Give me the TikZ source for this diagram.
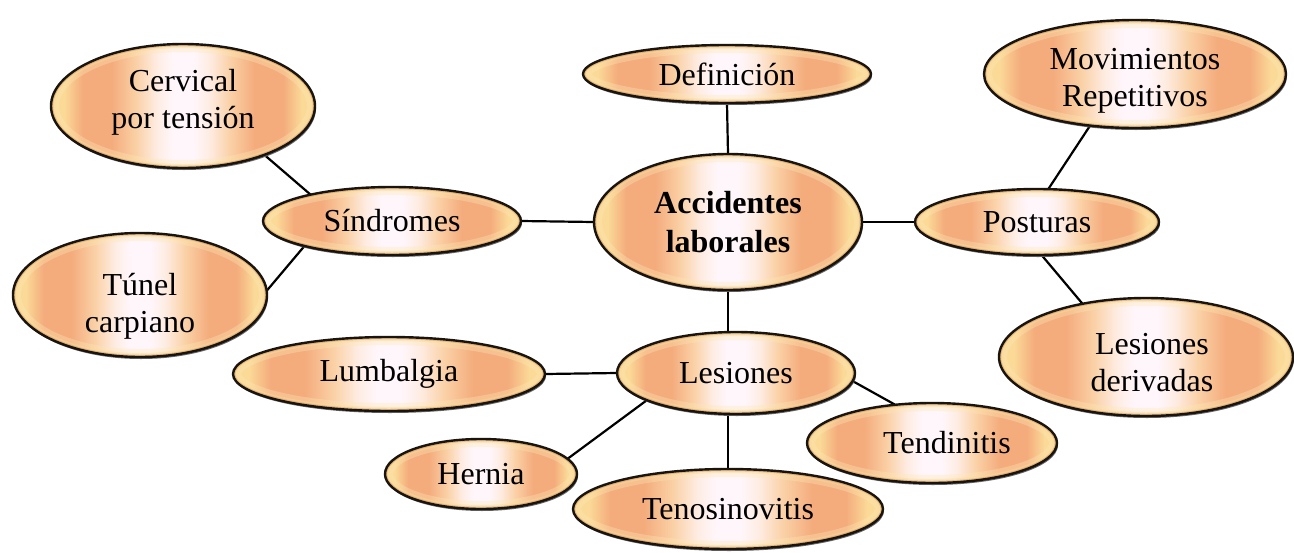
\documentclass[tikz,border=0pt]{standalone}
\usepackage{fontspec}
\setmainfont{Liberation Serif}
\usetikzlibrary{shapes.geometric}
\pgfdeclarelayer{background}
\pgfsetlayers{background,main}
\definecolor{brim}{RGB}{200,140,80}
\definecolor{byel}{RGB}{251,218,152}
\definecolor{blyel}{RGB}{253,232,180}
\definecolor{bsal}{RGB}{244,172,125}
\definecolor{bpeach}{RGB}{250,208,165}
\definecolor{bcream}{RGB}{254,236,226}
\definecolor{bctr}{RGB}{255,246,251}
\definecolor{bline}{RGB}{25,20,15}
\pgfdeclarehorizontalshading{bubble}{100bp}{color(0bp)=(byel); color(25bp)=(byel); color(27.5bp)=(byel); color(31bp)=(bsal); color(36.5bp)=(bsal); color(41bp)=(bpeach); color(45bp)=(bcream); color(48bp)=(bctr); color(52bp)=(bctr); color(55bp)=(bcream); color(59bp)=(bpeach); color(63.5bp)=(bsal); color(69bp)=(bsal); color(72.5bp)=(byel); color(75bp)=(byel); color(100bp)=(byel)}
\newcommand\twoln[4][0pt]{\raisebox{#2}[0pt][0pt]{\begin{tabular}[t]{@{\hspace{#1}}c@{}}#3\\#4\end{tabular}}}
\tikzset{
  bub/.style={ellipse, inner sep=0pt, align=center,
    font=\fontsize{32}{37}\selectfont,
    preaction={fill=black!60, transform canvas={xshift=1pt, yshift=-2pt}},
    shade, shading=bubble},
  rimsoft/.style={draw=blyel, line width=16pt, draw opacity=0.35},
  rimmid/.style={draw=byel, line width=8pt, draw opacity=0.45},
  rimdark/.style={draw=brim, line width=4.5pt, draw opacity=0.45},
  outl/.style={draw=bline, line width=2.4pt},
  con/.style={draw=black, line width=2.2pt}
}
% #1 options, #2 name, #3 x, #4 y, #5 x radius, #6 y radius, #7 text
\newcommand\bubble[7][]{%
  \node[bub, minimum width=2*#5pt, minimum height=2*#6pt, #1] (#2) at (#3,#4) {#7};
  \begin{scope}
    \clip (#3,#4) ellipse [x radius=#5pt, y radius=#6pt];
    \path[rimsoft] (#3,#4) ellipse [x radius=#5pt, y radius=#6pt];
    \path[rimmid] (#3,#4) ellipse [x radius=#5pt, y radius=#6pt];
    \path[rimdark] (#3,#4) ellipse [x radius=#5pt, y radius=#6pt];
  \end{scope}
  \path[outl] (#3,#4) ellipse [x radius=#5pt, y radius=#6pt];
}
\begin{document}
\begin{tikzpicture}[x=1pt,y=-1pt]
\useasboundingbox (0,0) rectangle (1294,552);
\bubble{def}{727}{74}{144}{29}{Definición}
\bubble[font=\fontsize{32}{39}\selectfont\bfseries]{acc}{728}{222}{134}{68}{Accidentes\\laborales}
\bubble{cer}{183}{106}{132}{62}{\twoln{15pt}{Cervical}{por tensión}}
\bubble{sin}{392}{221}{129}{34}{Síndromes}
\bubble{tun}{140}{295}{127}{62}{\twoln{0pt}{Túnel}{carpiano}}
\bubble{lum}{389}{374}{156}{37}{Lumbalgia}
\bubble{les}{736}{373}{119}{41}{Lesiones}
\bubble{her}{481}{474}{96}{35}{Hernia}
\bubble{ten}{728}{509}{155}{40}{Tenosinovitis}
\bubble{tend}{932}{443}{125}{40}{\makebox[0pt]{\hspace{30pt}Tendinitis}}
\bubble{pos}{1037}{222}{122}{33}{Posturas}
\bubble{mov}{1135}{74}{151}{54}{\twoln{5pt}{Movimientos}{Repetitivos}}
\bubble{der}{1146}{357}{147}{59}{\twoln[12pt]{3pt}{Lesiones}{derivadas}}
\begin{pgfonlayer}{background}
\draw[con] (def.south) -- (acc.north);
\draw[con] (sin.east) -- (acc.west);
\draw[con] (acc.east) -- (pos.west);
\draw[con] (acc.south) -- (acc.south |- les.north);
\draw[con] (sin.162) -- (cer.-31);
\draw[con] (sin.196) -- (tun.2);
\draw[con] (pos.71) -- (mov.229);
\draw[con] (pos.-82) -- (der.140);
\draw[con] (les.west) -- (lum.east);
\draw[con] (les.197) -- (her.10);
\draw[con] (les.south -| ten.north) -- (ten.north);
\draw[con] (les.-4) -- (tend.134);
\end{pgfonlayer}
\end{tikzpicture}
\end{document}
